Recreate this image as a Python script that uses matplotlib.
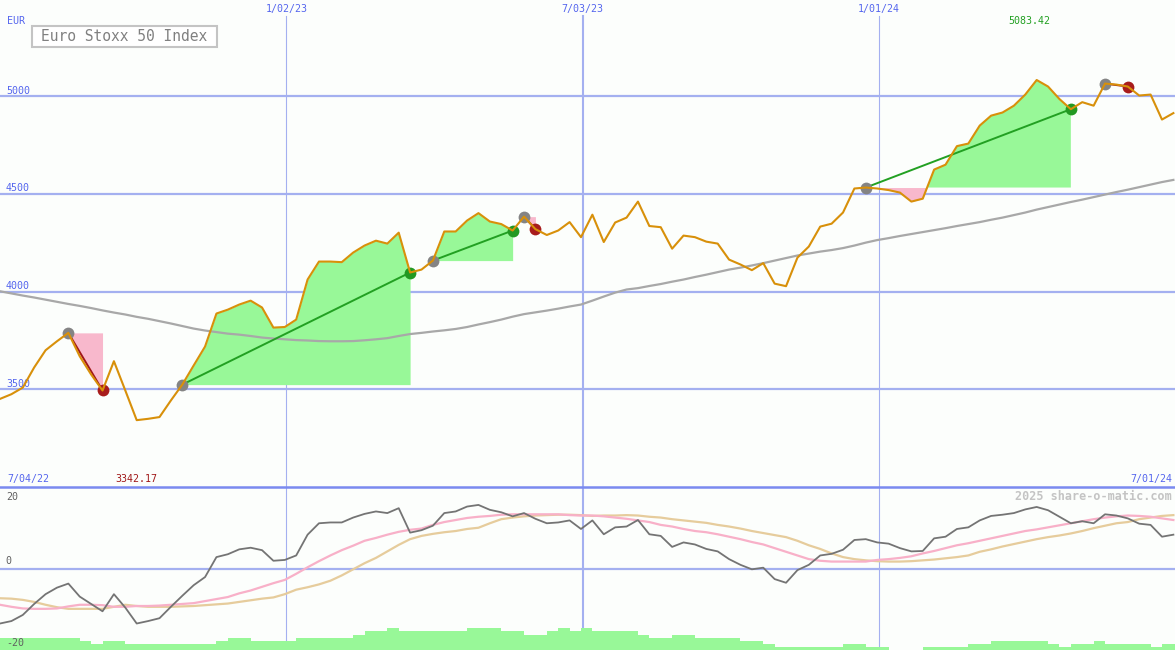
import numpy as np
import pandas as pd
import matplotlib
matplotlib.use("Agg")
import matplotlib.pyplot as plt
import matplotlib.dates as mdates
from matplotlib.patches import Rectangle

# weekly closes, Euro Stoxx 50
start = "2022-07-10"
end_date = "2024-07-01"
first_label = "2022-07-04"
grid_dates = ["2023-01-02", "2023-07-03", "2024-01-01"]

price = [3451, 3475, 3509, 3612, 3700, 3746, 3789, 3669, 3576, 3494,
         3644, 3494, 3342.17, 3349, 3358, 3443, 3524, 3622, 3719, 3888,
         3908, 3934, 3954, 3919, 3816, 3819, 3857, 4062, 4154, 4154,
         4151, 4200, 4236, 4261, 4246, 4302, 4098, 4113, 4159, 4308,
         4308, 4364, 4402, 4359, 4346, 4313, 4384, 4320, 4290, 4313,
         4356, 4279, 4394, 4254, 4354, 4379, 4461, 4336, 4330, 4220,
         4287, 4279, 4256, 4246, 4164, 4139, 4110, 4146, 4041, 4028,
         4174, 4231, 4333, 4348, 4405, 4528, 4533, 4528, 4520, 4507,
         4461, 4476, 4625, 4650, 4745, 4758, 4850, 4901, 4917, 4952,
         5009, 5083.42, 5050, 4986, 4934, 4970, 4952, 5065, 5060, 5050,
         5004, 5009, 4881, 4914]

ma_slow = [4002, 3991, 3980, 3970, 3959, 3948, 3937, 3927, 3916, 3904,
           3893, 3883, 3871, 3861, 3849, 3837, 3824, 3811, 3801, 3793,
           3785, 3780, 3773, 3765, 3760, 3756, 3752, 3750, 3747, 3746,
           3746, 3747, 3751, 3756, 3762, 3773, 3783, 3789, 3796, 3802,
           3809, 3819, 3832, 3844, 3857, 3872, 3885, 3894, 3903, 3913,
           3924, 3934, 3954, 3975, 3995, 4011, 4018, 4029, 4039, 4051,
           4062, 4075, 4087, 4100, 4113, 4123, 4134, 4146, 4159, 4172,
           4185, 4195, 4205, 4213, 4223, 4236, 4251, 4264, 4274, 4285,
           4295, 4305, 4315, 4325, 4336, 4346, 4356, 4368, 4379, 4392,
           4405, 4420, 4433, 4446, 4459, 4471, 4484, 4497, 4510, 4522,
           4535, 4548, 4561, 4572]

osc = [-13.5, -12.9, -11.4, -8.7, -6.3, -4.7, -3.7, -6.9, -8.7, -10.5,
       -6.3, -9.6, -13.5, -12.9, -12.2, -9.4, -6.7, -4.1, -2.1, 2.8,
       3.5, 4.7, 5.1, 4.5, 1.9, 2.1, 3.2, 8.3, 11.1, 11.3,
       11.3, 12.5, 13.4, 14.0, 13.6, 14.8, 8.8, 9.4, 10.5, 13.6,
       14.0, 15.2, 15.6, 14.4, 13.8, 12.8, 13.6, 12.2, 11.1, 11.3,
       11.8, 9.7, 11.8, 8.4, 10.1, 10.3, 11.9, 8.4, 8.0, 5.3,
       6.4, 5.9, 4.8, 4.2, 2.3, 0.9, -0.2, 0.2, -2.6, -3.5,
       -0.4, 0.9, 3.2, 3.6, 4.6, 7.0, 7.2, 6.4, 6.1, 5.0,
       4.2, 4.3, 7.4, 7.8, 9.7, 10.1, 11.8, 12.9, 13.2, 13.6,
       14.5, 15.1, 14.3, 12.7, 11.1, 11.6, 11.1, 13.3, 13.0, 12.3,
       11.0, 10.7, 7.8, 8.3]

osc_fast = [-8.9, -9.4, -9.8, -9.9, -9.9, -9.8, -9.3, -8.9, -8.9, -9.0,
            -9.4, -9.4, -9.2, -9.2, -9.1, -8.9, -8.7, -8.5, -8.0, -7.5,
            -7.0, -6.1, -5.4, -4.5, -3.6, -2.8, -1.3, 0.3, 1.8, 3.2,
            4.5, 5.6, 6.8, 7.5, 8.3, 9.0, 9.5, 9.8, 10.7, 11.4,
            11.9, 12.4, 12.7, 12.9, 13.2, 13.3, 13.3, 13.3, 13.3, 13.3,
            13.1, 13.0, 13.0, 12.8, 12.5, 12.2, 11.8, 11.4, 10.7, 10.3,
            9.7, 9.2, 8.9, 8.4, 7.8, 7.2, 6.5, 5.9, 5.0, 4.1,
            3.2, 2.3, 1.9, 1.7, 1.7, 1.7, 1.7, 2.1, 2.3, 2.6,
            3.0, 3.7, 4.3, 5.0, 5.7, 6.2, 6.8, 7.4, 8.0, 8.6,
            9.2, 9.6, 10.1, 10.6, 11.1, 11.6, 12.1, 12.5, 12.8, 13.0,
            12.9, 12.7, 12.3, 11.9]

osc_slow = [-7.3, -7.4, -7.7, -8.2, -8.9, -9.5, -9.9, -9.9, -9.9, -9.9,
            -9.4, -8.9, -9.2, -9.4, -9.4, -9.4, -9.3, -9.2, -9.0, -8.8,
            -8.6, -8.2, -7.8, -7.4, -7.1, -6.3, -5.2, -4.6, -3.9, -3.0,
            -1.7, -0.2, 1.3, 2.6, 4.2, 5.8, 7.2, 8.0, 8.5, 8.9,
            9.2, 9.7, 10.0, 11.1, 12.1, 12.5, 12.8, 13.0, 13.1, 13.2,
            13.2, 13.1, 12.9, 13.0, 13.0, 13.1, 13.0, 12.7, 12.5, 12.1,
            11.8, 11.5, 11.2, 10.7, 10.3, 9.8, 9.2, 8.7, 8.2, 7.7,
            6.8, 5.7, 4.8, 3.7, 2.8, 2.3, 2.0, 1.8, 1.7, 1.7,
            1.8, 2.0, 2.2, 2.5, 2.8, 3.2, 4.1, 4.7, 5.4, 6.0,
            6.6, 7.2, 7.7, 8.1, 8.6, 9.2, 9.9, 10.5, 11.1, 11.4,
            12.1, 12.5, 12.9, 13.1]

# bottom bars, in steps
vol = [4, 4, 4, 4, 4, 4, 4, 3, 2, 3,
       3, 2, 2, 2, 2, 2, 2, 2, 2, 3,
       4, 4, 3, 3, 3, 3, 4, 4, 4, 4,
       4, 5, 6, 6, 7, 6, 6, 6, 6, 6,
       6, 7, 7, 7, 6, 6, 5, 5, 6, 7,
       6, 7, 6, 6, 6, 6, 5, 4, 4, 5,
       5, 4, 4, 4, 4, 3, 3, 2, 1, 1,
       1, 1, 1, 1, 2, 2, 1, 1, 0, 0,
       0, 1, 1, 1, 1, 2, 2, 3, 3, 3,
       3, 3, 2, 1, 2, 2, 3, 2, 2, 2,
       2, 1, 2, 2]
vol_step = 0.76

# (entry week, exit week)
trades = [(6, 9), (16, 36), (38, 45), (46, 47), (76, 94), (97, 99)]

price_levels = [3500, 4000, 4500, 5000]

bg = "#fcfefc"
grid_c = "#a4b0f0"
sep_c = "#7a8af0"
blue_txt = "#5566ee"
font = "DejaVu Sans Mono"


def dlabel(d):
    d = pd.Timestamp(d)
    return f"{d.month}/{d.day:02d}/{d.year % 100:02d}"


dates = pd.date_range(start, periods=len(price), freq="7D")
x = mdates.date2num(dates)
p = np.array(price)
x_end = mdates.date2num(pd.Timestamp(end_date))

fig = plt.figure(figsize=(11.75, 6.5), dpi=100, facecolor=bg)
ax1 = fig.add_axes([0, 163 / 650, 1, 487 / 650])
ax2 = fig.add_axes([0, 0, 1, 163 / 650])
for ax in (ax1, ax2):
    ax.set_facecolor(bg)
    ax.set_xlim(x[0], x_end)
    ax.axis("off")

# ---- price panel
ax1.set_ylim(3000, 5493)
for lvl in price_levels:
    ax1.axhline(lvl, color=grid_c, lw=1.6, zorder=1)
    ax1.text(0.005, lvl + 4, str(lvl), transform=ax1.get_yaxis_transform(),
             color=blue_txt, fontsize=7.2, family=font, va="bottom")
for gd in grid_dates:
    gx = mdates.date2num(pd.Timestamp(gd))
    lw = 1.5 if pd.Timestamp(gd).month == 7 else 0.8
    ax1.axvline(gx, ymax=1 - 16 / 487, color=grid_c, lw=lw, zorder=1)
    ax2.axvline(gx, color=grid_c, lw=lw, zorder=1)
    ax1.text(gx, 1 - 9 / 487, dlabel(gd), transform=ax1.get_xaxis_transform(),
             color=blue_txt, fontsize=7.2, family=font, ha="center", va="center")

for a, b in trades:
    xs, ys, e = x[a:b + 1], p[a:b + 1], p[a]
    ax1.fill_between(xs, ys, e, where=ys >= e, interpolate=True,
                     color="#98f898", lw=0, zorder=2)
    ax1.fill_between(xs, ys, e, where=ys <= e, interpolate=True,
                     color="#f8b8cc", lw=0, zorder=2)
    win = p[b] > e
    ax1.plot([x[a], x[b]], [e, p[b]], color="#22a022" if win else "#a01818",
             lw=1.4, zorder=4)
    ax1.plot(x[a], e, "o", color="#848484", ms=8.5, mec="none", zorder=5)
    ax1.plot(x[b], p[b], "o", color="#229922" if win else "#a81c1c",
             ms=8.5, mec="none", zorder=5)

ax1.plot(x, ma_slow, color="#a8a8a8", lw=1.6, zorder=3)
ax1.plot(x, p, color="#d8900a", lw=1.5, zorder=6)

imax, imin = int(np.argmax(p)), int(np.argmin(p))
ax1.annotate(f"{p[imax]:.2f}", (x[imax], 1 - 21 / 487), xycoords=ax1.get_xaxis_transform(),
             xytext=(-5, 0), textcoords="offset points",
             color="#22a022", fontsize=7.2, family=font, ha="center", va="center")
ax1.text(x[imin], 8 / 487, f"{p[imin]:.2f}", transform=ax1.get_xaxis_transform(),
         color="#a01818", fontsize=7.2, family=font, ha="center", va="center")
ax1.text(7 / 1175, 8 / 487, dlabel(first_label), transform=ax1.transAxes,
         color=blue_txt, fontsize=7.2, family=font, va="center")
ax1.text(1 - 3 / 1175, 8 / 487, dlabel(end_date), transform=ax1.transAxes,
         color=blue_txt, fontsize=7.2, family=font, ha="right", va="center")
ax1.text(7 / 1175, 1 - 21 / 487, "EUR", transform=ax1.transAxes,
         color=blue_txt, fontsize=7.2, family=font, va="center")
ax1.add_patch(Rectangle((32 / 1175, 1 - 47 / 487), 185 / 1175, 21 / 487,
                        transform=ax1.transAxes, fc="white", ec="#c4c4c4",
                        lw=1.5, zorder=7))
ax1.text(124.5 / 1175, 1 - 36.5 / 487, "Euro Stoxx 50 Index", transform=ax1.transAxes,
         color="#808080", fontsize=10.5, family=font, ha="center", va="center",
         zorder=8)

# ---- oscillator panel
ax2.set_ylim(-20, 20)
ax2.bar(x, np.array(vol) * vol_step, width=7, bottom=-20, align="edge",
        color="#98f898", lw=0, zorder=2)
ax2.axhline(0, color=grid_c, lw=1.6, zorder=1)
ax2.axhline(20, color=sep_c, lw=1.8, zorder=9, clip_on=False)
ax2.plot(x, osc_slow, color="#e6cc9c", lw=1.6, zorder=3)
ax2.plot(x, osc_fast, color="#f8b0c8", lw=1.6, zorder=4)
ax2.plot(x, osc, color="#747474", lw=1.3, zorder=5)
for val, va, dy in [(20, "top", -1.2), (0, "bottom", 0.6), (-20, "bottom", 0.6)]:
    ax2.text(0.005, val + dy, str(val),
             transform=ax2.get_yaxis_transform(), color="#606060",
             fontsize=7.2, family=font, va=va)
ax2.text(1 - 3 / 1175, 1 - 9 / 163, "2025 share-o-matic.com", transform=ax2.transAxes,
         color="#c4c4c4", fontsize=8.5, family=font, weight="bold",
         ha="right", va="center")

fig.savefig("out.png", dpi=100, facecolor=bg)
